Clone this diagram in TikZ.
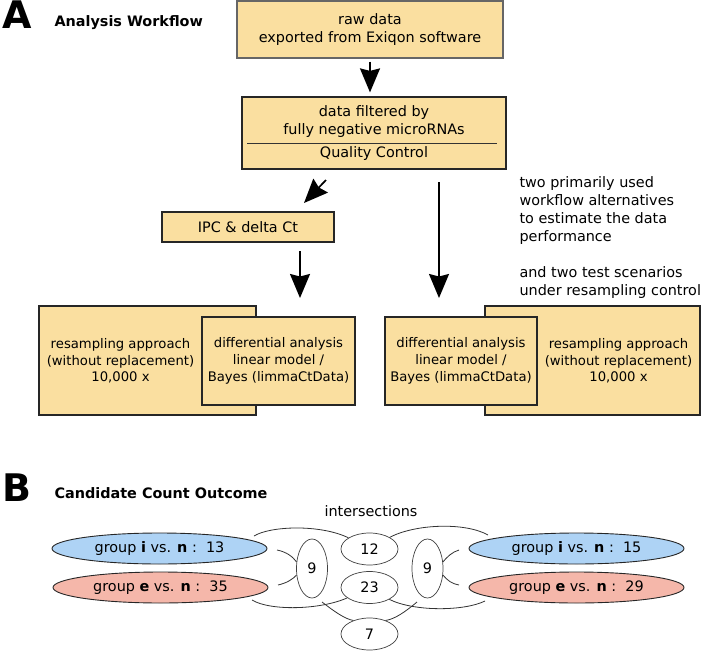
\documentclass[tikz,border=0pt]{standalone}
\usepackage{fontspec}
\setmainfont{DejaVu Sans}
\usetikzlibrary{arrows.meta,shapes.geometric}
\definecolor{boxtan}{RGB}{250,223,160}
\definecolor{grpblue}{RGB}{174,211,245}
\definecolor{grpred}{RGB}{245,183,170}

\begin{document}
\begin{tikzpicture}[x=1pt,y=-1pt,
    every node/.style={font=\fontsize{14.4}{18}\selectfont},
    flow box/.style={rectangle,draw=black!85,line width=1.2pt,fill=boxtan,align=center,inner sep=0pt},
    small text/.style={align=center,font=\fontsize{13.2}{16.7}\selectfont},
    panel/.style={anchor=base west,font=\fontsize{38}{38}\selectfont\bfseries},
    title/.style={anchor=base west,font=\fontsize{14.4}{18}\selectfont\bfseries},
    group/.style={ellipse,draw=black!85,line width=0.9pt,inner sep=0pt,minimum width=215pt,minimum height=31pt},
    inter/.style={ellipse,draw=black!75,line width=0.7pt,inner sep=0pt,minimum width=57pt,minimum height=32pt},
    flow arrow/.style={line width=1.7pt,-{Stealth[length=24pt,width=20pt,inset=2.5pt]}},
    venn line/.style={line width=0.8pt,draw=black!80}]
\useasboundingbox (0,0) rectangle (702,651);

\node[panel] (labA) at (-1,28.5) {A};
\node[title] (titA) at (51,26.5) {Analysis Workflow};

\node[flow box,draw=black!60,minimum width=266pt,minimum height=57pt] (raw) at (370,29.5)
    {raw data\\exported from Exiqon software};
\node[flow box,minimum width=264pt,minimum height=72pt] (filt) at (374,133)
    {data filtered by\\fully negative microRNAs\\[5pt]Quality Control};
\draw[line width=0.8pt,black!80] (247,143) -- (497,143);
\node[flow box,minimum width=172pt,minimum height=30pt] (ipc) at (248,227) {IPC \& delta Ct};

\node[flow box,minimum width=217pt,minimum height=109pt] (resL) at (147.5,360.5) {};
\node[small text] (resLtxt) at (120.5,361) {resampling approach\\(without replacement)\\10,000 x};
\node[flow box,small text,minimum width=153pt,minimum height=88pt] (diffL) at (278.5,361)
    {differential analysis\\linear model /\\Bayes (limmaCtData)};
\node[flow box,minimum width=215pt,minimum height=109pt] (resR) at (592.5,360.5) {};
\node[small text] (resRtxt) at (618.5,361) {resampling approach\\(without replacement)\\10,000 x};
\node[flow box,small text,minimum width=152pt,minimum height=88pt] (diffR) at (461,361)
    {differential analysis\\linear model /\\Bayes (limmaCtData)};

\node[anchor=base west,align=left] (note) at (516,295)
    {two primarily used\\workflow alternatives\\to estimate the data\\performance\\[18pt]and two test scenarios\\under resampling control};

\coordinate (diagout) at (326,180);
\coordinate (diagin) at (304,203);
\coordinate (ipcout) at (300,251);
\coordinate (ipcin) at (300,298);
\coordinate (filtout) at (439,182);
\coordinate (filtin) at (439,298);

\path[flow arrow]
(raw.south) edge[shorten <=3pt,shorten >=4pt] (raw.south |- filt.north)
(diagout) edge (diagin)
(ipcout) edge (ipcin)
(filtout) edge (filtin);

\node[panel] (labB) at (-1,501) {B};
\node[title] (titB) at (51,498.5) {Candidate Count Outcome};
\node[anchor=base] (intsec) at (371,516) {intersections};

\node[group,fill=grpblue] (giL) at (159.5,548.5) {group \textbf{i} vs. \textbf{n} :\ \ 13};
\node[group,fill=grpred] (geL) at (160.5,587.5) {group \textbf{e} vs. \textbf{n} :\ \ 35};
\node[group,fill=grpblue] (giR) at (576.5,548.5) {group \textbf{i} vs. \textbf{n} :\ \ 15};
\node[group,fill=grpred] (geR) at (576.5,587.5) {group \textbf{e} vs. \textbf{n} :\ \ 29};

\node[inter] (n12) at (369.5,549) {12};
\node[inter] (n23) at (369.5,587.5) {23};
\node[inter] (n7) at (369.5,634) {7};
\node[inter,minimum width=31pt,minimum height=59pt] (n9L) at (312,568.5) {9};
\node[inter,minimum width=31pt,minimum height=59pt] (n9R) at (427.5,568.5) {9};

\coordinate (tl) at (254,536);
\coordinate (tr) at (488,535);
\coordinate (bl) at (252,600);
\coordinate (br) at (485,601);
\coordinate (sl1) at (277,550);
\coordinate (sl2) at (278,585);
\coordinate (sr1) at (459,550);
\coordinate (sr2) at (459,585);
\coordinate (s7l) at (322,602);
\coordinate (s7r) at (417,602);

\draw[venn line] (tl) .. controls (270,526) and (320,524) .. (n12.152);
\draw[venn line] (n12.30) .. controls (415,524) and (465,522) .. (tr);
\draw[venn line] (bl) .. controls (270,611) and (320,610) .. (n23.205);
\draw[venn line] (n23.329) .. controls (415,612) and (465,611) .. (br);
\draw[venn line] (sl1) .. controls (287,552) and (293,557) .. (n9L.157);
\draw[venn line] (sl2) .. controls (287,583) and (293,579) .. (n9L.203);
\draw[venn line] (n9R.23) .. controls (447,557) and (452,552) .. (sr1);
\draw[venn line] (n9R.337) .. controls (447,580) and (452,584) .. (sr2);
\draw[venn line] (s7l) .. controls (335,612) and (345,619) .. (n7.140);
\draw[venn line] (s7r) .. controls (405,612) and (395,619) .. (n7.40);
\end{tikzpicture}
\end{document}
